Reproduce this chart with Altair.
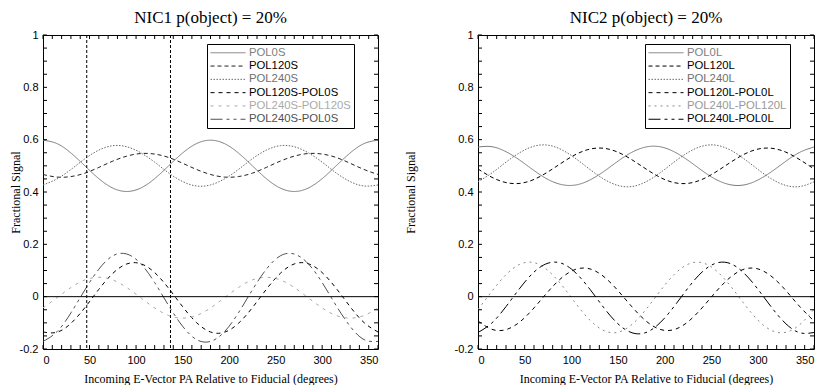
import altair as alt
import pandas as pd

# ---------------- data ----------------
angles = [0, 15, 30, 45, 60, 75, 90, 105, 120, 135, 150, 165, 180,
          195, 210, 225, 240, 255, 270, 285, 300, 315, 330, 345, 360]

nic1_names = ["POL0S", "POL120S", "POL240S", "POL120S-POL0S", "POL240S-POL120S", "POL240S-POL0S"]
nic1_pol0s = [0.598, 0.585, 0.549, 0.500, 0.451, 0.415, 0.402, 0.415, 0.451, 0.500, 0.549, 0.585, 0.598,
              0.585, 0.549, 0.500, 0.451, 0.415, 0.402, 0.415, 0.451, 0.500, 0.549, 0.585, 0.598]
nic1_pol120s = [0.467, 0.457, 0.459, 0.472, 0.494, 0.518, 0.537, 0.547, 0.545, 0.532, 0.510, 0.486, 0.467,
                0.457, 0.459, 0.472, 0.494, 0.518, 0.537, 0.547, 0.545, 0.532, 0.510, 0.486, 0.467]
nic1_pol240s = [0.427, 0.450, 0.486, 0.527, 0.560, 0.577, 0.573, 0.550, 0.514, 0.473, 0.440, 0.423, 0.427,
                0.450, 0.486, 0.527, 0.560, 0.577, 0.573, 0.550, 0.514, 0.473, 0.440, 0.423, 0.427]
nic1_d120_0 = [-0.135, -0.136, -0.102, -0.042, 0.028, 0.089, 0.125, 0.126, 0.092, 0.032, -0.038, -0.099, -0.135,
               -0.136, -0.102, -0.042, 0.028, 0.089, 0.125, 0.126, 0.092, 0.032, -0.038, -0.099, -0.135]
nic1_d240_120 = [-0.043, -0.004, 0.035, 0.064, 0.074, 0.064, 0.035, -0.004, -0.043, -0.072, -0.082, -0.072, -0.043,
                 -0.004, 0.035, 0.064, 0.074, 0.064, 0.035, -0.004, -0.043, -0.072, -0.082, -0.072, -0.043]
nic1_d240_0 = [-0.171, -0.134, -0.062, 0.026, 0.105, 0.156, 0.163, 0.126, 0.054, -0.034, -0.113, -0.164, -0.171,
               -0.134, -0.062, 0.026, 0.105, 0.156, 0.163, 0.126, 0.054, -0.034, -0.113, -0.164, -0.171]
nic1_marks = [47, 137]

nic2_names = ["POL0L", "POL120L", "POL240L", "POL120L-POL0L", "POL240L-POL120L", "POL240L-POL0L"]
nic2_pol0l = [0.572, 0.573, 0.554, 0.521, 0.482, 0.448, 0.428, 0.427, 0.446, 0.479, 0.518, 0.552, 0.572,
              0.573, 0.554, 0.521, 0.482, 0.448, 0.428, 0.427, 0.446, 0.479, 0.518, 0.552, 0.572]
nic2_pol120l = [0.488, 0.456, 0.436, 0.433, 0.448, 0.477, 0.512, 0.544, 0.564, 0.567, 0.552, 0.523, 0.488,
                0.456, 0.436, 0.433, 0.448, 0.477, 0.512, 0.544, 0.564, 0.567, 0.552, 0.523, 0.488]
nic2_pol240l = [0.439, 0.473, 0.514, 0.551, 0.575, 0.579, 0.561, 0.527, 0.486, 0.449, 0.425, 0.421, 0.439,
                0.473, 0.514, 0.551, 0.575, 0.579, 0.561, 0.527, 0.486, 0.449, 0.425, 0.421, 0.439]
nic2_d120_0 = [-0.093, -0.125, -0.126, -0.096, -0.043, 0.019, 0.073, 0.105, 0.106, 0.076, 0.023, -0.039, -0.093,
               -0.125, -0.126, -0.096, -0.043, 0.019, 0.073, 0.105, 0.106, 0.076, 0.023, -0.039, -0.093]
nic2_d240_120 = [-0.049, 0.021, 0.084, 0.124, 0.130, 0.100, 0.043, -0.027, -0.090, -0.130, -0.136, -0.106, -0.049,
                 0.021, 0.084, 0.124, 0.130, 0.100, 0.043, -0.027, -0.090, -0.130, -0.136, -0.106, -0.049]
nic2_d240_0 = [-0.137, -0.100, -0.038, 0.033, 0.094, 0.128, 0.127, 0.090, 0.028, -0.043, -0.104, -0.138, -0.137,
               -0.100, -0.038, 0.033, 0.094, 0.128, 0.127, 0.090, 0.028, -0.043, -0.104, -0.138, -0.137]

x_label_values = [0, 50, 100, 150, 200, 250, 300, 350]
y_label_values = [-0.2, 0, 0.2, 0.4, 0.6, 0.8, 1]
x_minor = [0, 10, 20, 30, 40, 50, 60, 70, 80, 90, 100, 110, 120, 130, 140, 150, 160, 170, 180,
           190, 200, 210, 220, 230, 240, 250, 260, 270, 280, 290, 300, 310, 320, 330, 340, 350, 360]
y_minor = [-0.2, -0.15, -0.1, -0.05, 0, 0.05, 0.1, 0.15, 0.2, 0.25, 0.3, 0.35, 0.4, 0.45, 0.5,
           0.55, 0.6, 0.65, 0.7, 0.75, 0.8, 0.85, 0.9, 0.95, 1.0]

# ---------------- styles ----------------
W1, W2, H = 335, 336, 314
X_TITLE = "Incoming E-Vector PA Relative to Fiducial (degrees)"

nic1_colors = ["#7a7a7a", "#222222", "#6a6a6a", "#000000", "#a8a8a8", "#505050"]
nic1_text = ["#808080", "#000000", "#707070", "#000000", "#aaaaaa", "#505050"]
nic2_colors = ["#7a7a7a", "#000000", "#6a6a6a", "#000000", "#8a8a8a", "#000000"]
nic2_text = ["#808080", "#000000", "#707070", "#000000", "#999999", "#000000"]
dashes = [[1, 0], [4, 3], [1.5, 1.5], [4, 4], [3, 5], [12, 4, 3, 4, 3, 4]]
nic2_dashes = [[1, 0], [4, 3], [1.5, 1.5], [4, 4], [2, 4], [12, 4, 3, 4, 3, 4]]


def color_expr(names, cols):
    expr = "'#000000'"
    for n, c in reversed(list(zip(names, cols))):
        expr = f"datum.label == '{n}' ? '{c}' : ({expr})"
    return expr


def panel(title, names, lists, colors, text_cols, dash_list, marks, width, legend_x, y_title_pad):
    rows = []
    for n, vals in zip(names, lists):
        for a, v in zip(angles, vals):
            rows.append({"angle": a, "value": v, "series": n})
    df = pd.DataFrame(rows)
    xs = alt.Scale(domain=[0, 360], nice=False, zero=False)
    ys = alt.Scale(domain=[-0.2, 1], nice=False, zero=False)
    common = dict(grid=False, ticks=False, domain=False,
                  labelFont="Liberation Sans", labelFontSize=11, labelColor="black",
                  titleFont="Liberation Serif", titleFontSize=12, titleFontWeight="normal",
                  titleColor="black")
    xax = alt.Axis(values=x_label_values, title=X_TITLE, labelPadding=5, titlePadding=8,
                   labelExpr="'' + datum.value", **common)
    yax = alt.Axis(values=y_label_values, title="Fractional Signal", labelPadding=5,
                   titlePadding=y_title_pad, labelExpr="'' + datum.value", **common)

    leg = alt.Legend(
        orient="none", legendX=legend_x, legendY=9, title=None,
        strokeColor="black", fillColor="white", padding=3,
        symbolType="stroke", symbolSize=1225, symbolStrokeWidth=1,
        labelFont="Liberation Sans", labelFontSize=11.3, labelFontWeight="normal", labelOffset=3,
        labelColor={"expr": color_expr(names, text_cols)},
        rowPadding=0.3, clipHeight=11.5, labelLimit=200,
    )
    lines = alt.Chart(df).mark_line(strokeWidth=1, interpolate="natural", clip=True).encode(
        x=alt.X("angle:Q", scale=xs, axis=xax),
        y=alt.Y("value:Q", scale=ys, axis=yax),
        color=alt.Color("series:N", scale=alt.Scale(domain=names, range=colors), legend=leg),
        strokeDash=alt.StrokeDash("series:N", scale=alt.Scale(domain=names, range=dash_list), legend=leg),
    )

    zero = alt.Chart(pd.DataFrame({"v": [0]})).mark_rule(color="black", strokeWidth=1).encode(
        y=alt.Y("v:Q", scale=ys, axis=yax))

    xt = pd.DataFrame({"v": x_minor})
    yt = pd.DataFrame({"v": y_minor})
    tick_b = alt.Chart(xt).mark_rule(color="black").encode(
        x=alt.X("v:Q", scale=xs, axis=xax), y=alt.value(H - 4), y2=alt.value(H))
    tick_t = alt.Chart(xt).mark_rule(color="black").encode(
        x=alt.X("v:Q", scale=xs, axis=xax), y=alt.value(0), y2=alt.value(4))
    tick_l = alt.Chart(yt).mark_rule(color="black").encode(
        y=alt.Y("v:Q", scale=ys, axis=yax), x=alt.value(0), x2=alt.value(4))
    tick_r = alt.Chart(yt).mark_rule(color="black").encode(
        y=alt.Y("v:Q", scale=ys, axis=yax), x=alt.value(width - 4), x2=alt.value(width))

    layers = [lines, zero, tick_b, tick_t, tick_l, tick_r]
    if marks:
        vl = alt.Chart(pd.DataFrame({"v": marks})).mark_rule(color="black", strokeDash=[3, 2], strokeWidth=1).encode(
            x=alt.X("v:Q", scale=xs, axis=xax))
        layers.append(vl)

    return alt.layer(*layers).properties(
        width=width, height=H,
        title=alt.TitleParams(title, font="Liberation Serif", fontSize=17, fontWeight="normal",
                              anchor="middle", frame="group", offset=-4, dy=-6, color="black"),
    )


left = panel("NIC1 p(object) = 20%", nic1_names,
             [nic1_pol0s, nic1_pol120s, nic1_pol240s, nic1_d120_0, nic1_d240_120, nic1_d240_0],
             nic1_colors, nic1_text, dashes, nic1_marks, W1, 164, -3)
right = panel("NIC2 p(object) = 20%", nic2_names,
              [nic2_pol0l, nic2_pol120l, nic2_pol240l, nic2_d120_0, nic2_d240_120, nic2_d240_0],
              nic2_colors, nic2_text, nic2_dashes, [], W2, 167, 37)

chart = alt.hconcat(left, right, spacing=24).resolve_scale(
    color="independent", strokeDash="independent"
).properties(padding=0, background="white").configure_view(
    stroke="black", strokeWidth=1
)

chart.save("out.html", embed_options={"renderer": "svg", "actions": False})
